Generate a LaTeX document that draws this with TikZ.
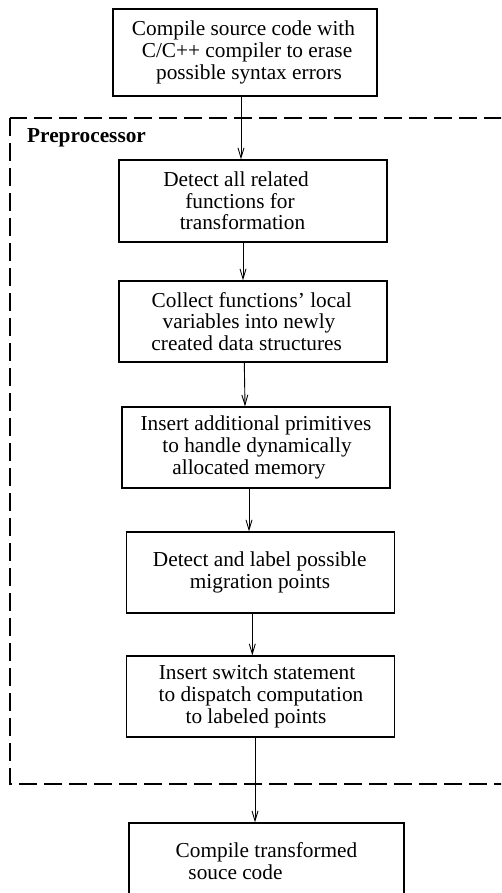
\documentclass[tikz,border=0pt]{standalone}
\usepackage{fontspec}
\setmainfont{Liberation Serif}
\usetikzlibrary{arrows.meta}
% shift one line of a centred block left (\shl) or right (\shr) by half the kern
\newcommand\shl[2]{\mbox{#2\kern#1pt}}
\newcommand\shr[2]{\mbox{\kern#1pt#2}}
\begin{document}
\begin{tikzpicture}[x=1pt,y=-1pt,
  stage/.style={draw, line width=1.2pt, inner sep=0pt, align=center,
    font=\fontsize{21.3}{21.7}\selectfont, minimum width=268pt, minimum height=81pt},
  flow/.style={-{Straight Barb[length=10pt,width=6pt]}, line width=0.9pt},
  region/.style={draw, dash pattern=on 18pt off 7pt, line width=1.4pt}]
\useasboundingbox (0,0) rectangle (501,893);
\clip (0,0) rectangle (501,893);

% preprocessor region
\draw[region] (10,118) rectangle (540,784);
\node[font=\bfseries\fontsize{21.3}{21.7}\selectfont, anchor=base west, inner sep=0pt]
  (pre) at (27,143) {Preprocessor};

% stages
\node[stage, minimum width=264pt, minimum height=87pt] (b1) at (245,52.5)
  {\shl{3}{Compile source code with}\\ \shr{4}{C/C++ compiler to erase}\\ \shr{8}{possible syntax errors}};
\node[stage, minimum height=82pt] (b2) at (253,201)
  {\shl{34}{Detect all related}\\ \shl{26}{functions for}\\ \shl{21}{transformation}};
\node[stage] (b3) at (253,321.5)
  {\shl{2.6}{Collect functions' local}\\ \shl{8}{variables into newly}\\ \shl{12.6}{created data structures}};
\node[stage] (b4) at (256,447.5)
  {Insert additional primitives\\ \shr{2}{to handle dynamically}\\ \shl{14}{allocated memory}};
\node[stage] (b5) at (260.7,572.5)
  {\shl{2}{Detect and label possible}\\ \shl{1.4}{migration points}};
\node[stage] (b6) at (260.7,696.5)
  {\shl{7.4}{Insert switch statement}\\ \shr{0.6}{to dispatch computation}\\ \shl{9.4}{to labeled points}};
\node[stage, minimum width=275pt, minimum height=76pt] (b7) at (266.5,861)
  {Compile transformed\\ \shl{62}{souce code}};

% flow between stages
\draw[flow] ([xshift=-4pt]b1.south) -- ([xshift=-12pt]b2.north);
\draw[flow] ([xshift=-10pt]b2.south) -- ([xshift=-10pt]b3.north);
\draw[flow] ([xshift=-8.7pt]b3.south) -- ([xshift=-11pt]b4.north);
\draw[flow] ([xshift=-7pt]b4.south) -- ([xshift=-11.7pt]b5.north);
\draw[flow] ([xshift=-8.4pt]b5.south) -- ([xshift=-8.4pt]b6.north);
\draw[flow] ([xshift=-5.7pt]b6.south) -- ([xshift=-11.5pt]b7.north);
\end{tikzpicture}
\end{document}
